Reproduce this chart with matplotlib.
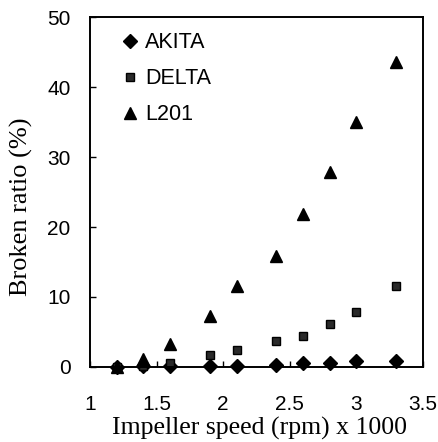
import matplotlib.pyplot as plt

speed = [1.2, 1.4, 1.6, 1.9, 2.1, 2.4, 2.6, 2.8, 3.0, 3.3]
akita = [0.0, 0.1, 0.1, 0.1, 0.2, 0.3, 0.6, 0.6, 0.8, 0.9]
delta = [0.0, 0.2, 0.6, 1.7, 2.5, 3.7, 4.4, 6.2, 7.8, 11.6]
l201 = [0.0, 1.2, 3.3, 7.3, 11.6, 15.9, 21.9, 27.8, 35.0, 43.6]

x_ticks = [1, 1.5, 2, 2.5, 3, 3.5]
x_labels = ['1', '1.5', '2', '2.5', '3', '3.5']
y_ticks = [0, 10, 20, 30, 40, 50]

fig = plt.figure(figsize=(4.38, 4.42), dpi=100)
ax = fig.add_axes([90/438, 1-367/442, (423-90)/438, (367-17)/442])

ax.plot(speed, akita, 'D', color='black', markersize=7.5, label='AKITA', clip_on=False)
ax.plot(speed, delta, 's', color='#2a2a2a', markersize=5.5, markeredgecolor='black', label='DELTA', clip_on=False)
ax.plot(speed, l201, '^', color='black', markersize=8, label='L201', clip_on=False)

ax.set_xlim(1, 3.5)
ax.set_ylim(0, 50)
ax.set_xticks(x_ticks)
ax.set_xticklabels(x_labels)
ax.set_yticks(y_ticks)
ax.tick_params(direction='in', length=4, width=1, labelsize=15)
ax.tick_params(axis='x', pad=20)
ax.tick_params(axis='y', pad=14)
for lab in ax.get_xticklabels() + ax.get_yticklabels():
    lab.set_family('Liberation Sans')
for s in ax.spines.values():
    s.set_linewidth(1.4)

ax.set_xlabel('Impeller speed (rpm) x 1000', family='Liberation Serif', fontsize=18.5)
ax.set_ylabel('Broken ratio (%)', family='Liberation Serif', fontsize=19)
ax.xaxis.set_label_coords(0.51, -0.143)
ax.yaxis.set_label_coords(-0.17, 0.457)

ax.legend(loc='upper left', bbox_to_anchor=(0.041, 1.0), frameon=False,
          prop={'family': 'Liberation Sans', 'size': 15.5},
          handletextpad=0.2, handlelength=1.0, borderaxespad=0, borderpad=0.72,
          labelspacing=0.69, markerscale=1.0)

plt.savefig('out.png', dpi=100)
